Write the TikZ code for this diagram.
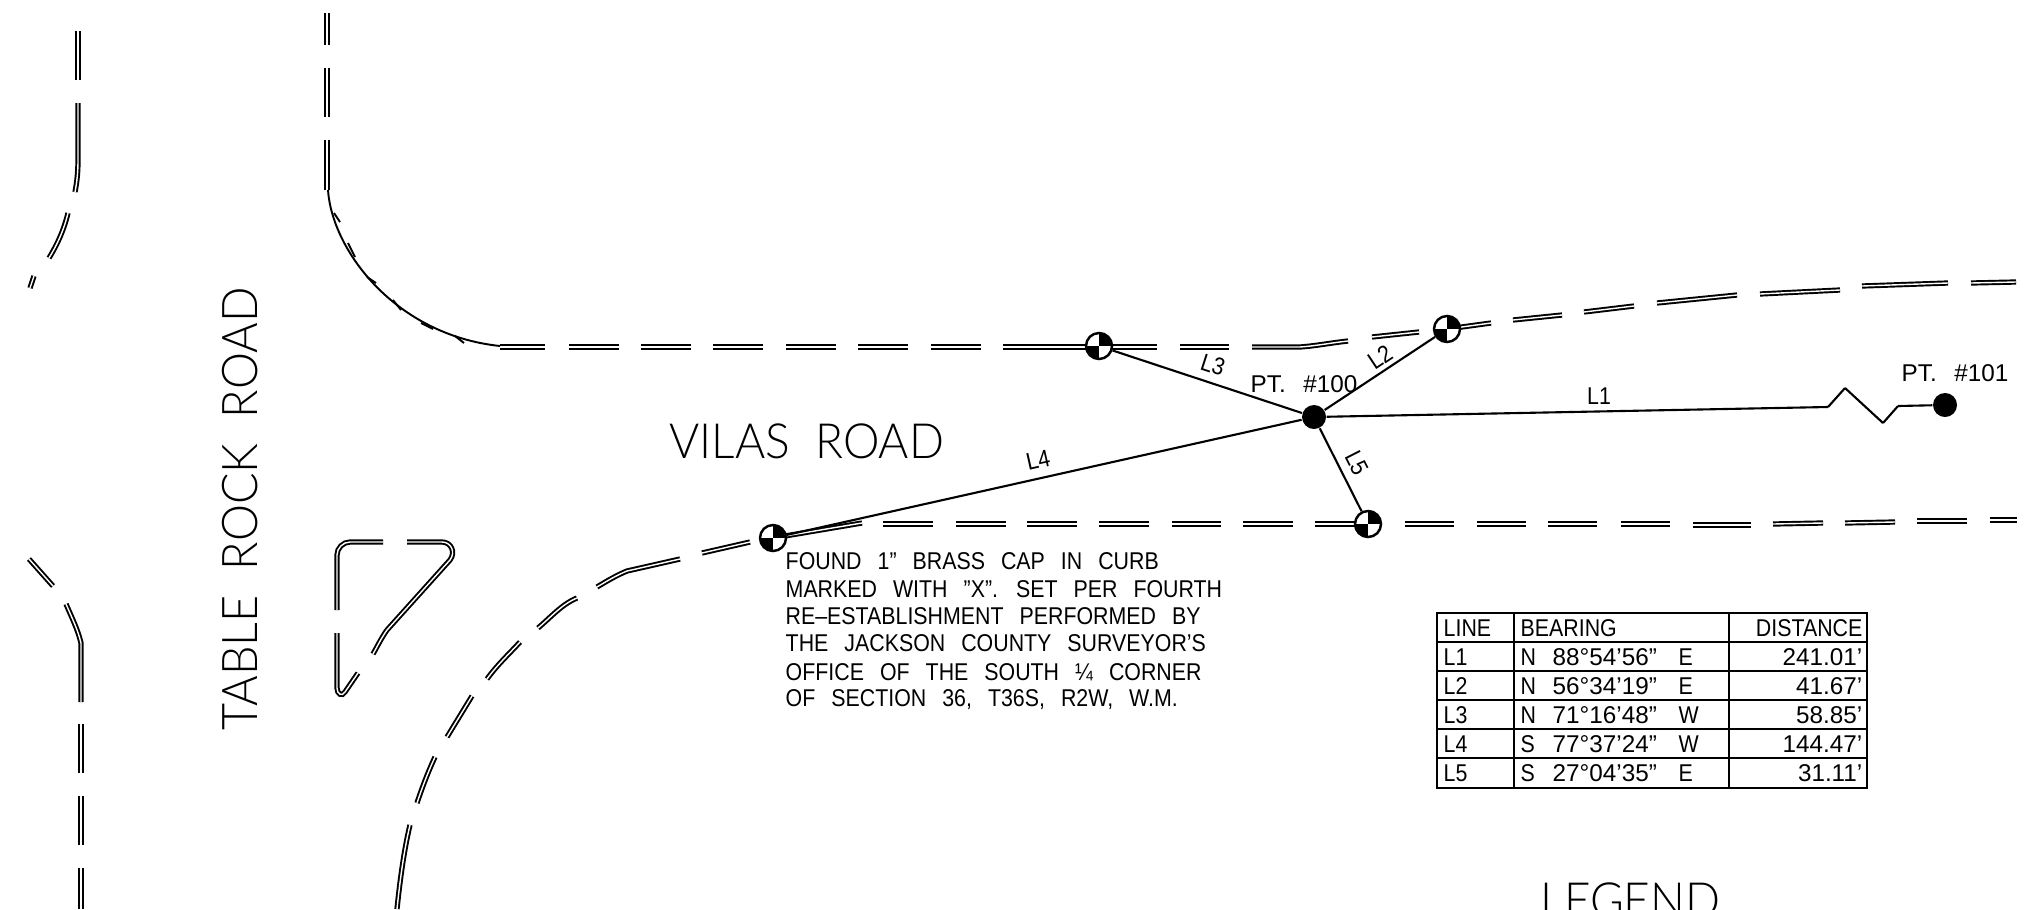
\documentclass[tikz,border=0pt]{standalone}
\usepackage{fontspec}
\setmainfont{Liberation Sans}
\newfontfamily\cadfont[FakeStretch=0.88,WordSpace=2.7,Ligatures=TeX]{Liberation Sans}
\newfontfamily\roadfont[FakeStretch=0.95,WordSpace=2]{Lato Light}
\tikzset{
    curb/.style={draw=black,line width=0.55pt,double=white,double distance=0.4pt},
    curbthin/.style={draw=black,line width=0.55pt},
    survey/.style={draw=black,line width=0.6pt},
    roadname/.style={inner sep=0pt,font=\roadfont\fontsize{14}{16}\selectfont},
    roadsmall/.style={inner sep=0pt,font=\roadfont\fontsize{13.8}{16}\selectfont},
    small/.style={inner sep=0pt,font=\cadfont\fontsize{6.9}{8}\selectfont},
    smallnum/.style={inner sep=0pt,font=\fontsize{6.9}{8}\selectfont},
    note/.style={inner sep=0pt,align=left,anchor=north west,font=\cadfont\fontsize{6.9}{7.8}\selectfont}
}
\begin{document}
\begin{tikzpicture}[x=0.01cm,y=-0.01cm]
\useasboundingbox (0,0) rectangle (2025,909);
\begin{scope}[every path/.style={curb}]
    \draw (78,31) -- (78,80);
    \draw (78,103) -- (78,160) .. controls (78,172) and (77,182) .. (75,192);
    \draw (68,213) .. controls (64,230) and (57,245) .. (49,258);
    \draw (34,276) -- (30,288);
    \draw (29,559) -- (53,586);
    \draw (66,604) .. controls (72,618) and (78,630) .. (81,643) -- (81,702);
    \draw (81,724) -- (81,773);
    \draw (81,796) -- (81,845);
    \draw (81,868) -- (81,909);
    \draw (327,13) -- (327,45);
    \draw (327,68) -- (327,117);
    \draw (327,140) -- (327,190);
    \draw (500,347) -- (545,347);
    \foreach \a/\b in {569/619,641/691,713/763,786/836,858/908,931/981,1003/1157,1180/1229}
        \draw (\a,347) -- (\b,347);
    \draw (1252,347) -- (1300,347) .. controls (1315,346) and (1330,343) .. (1348,341);
    \draw (1372,337) -- (1419,332);
    \draw (1447,329) -- (1491,323);
    \draw (1513,320) -- (1562,315);
    \draw (1584,312) -- (1634,306);
    \draw (1657,303) -- (1737,295);
    \draw (1760,294) -- (1840,290);
    \draw (1862,286) -- (1948,283);
    \draw (1971,283) -- (2016,282);
    \draw (773,538) -- (862,523);
    \foreach \a/\b in {883/933,956/1006,1027/1077,1099/1149,1172/1221,1243/1293,1315/1368,1405/1454,1477/1526,1548/1597,1621/1670}
        \draw (\a,524) -- (\b,524);
    \draw (1693,525) -- (1751,525);
    \draw (1773,524) -- (1823,523);
    \draw (1845,523) -- (1895,522);
    \draw (1917,521) -- (1967,521);
    \draw (1990,520) -- (2017,520);
    \draw (702,553) -- (750,542);
    \draw (597,587) .. controls (607,581) and (617,575) .. (627,571) -- (680,559);
    \draw (577,598) .. controls (562,604) and (550,618) .. (538,628);
    \draw (520,642) .. controls (510,653) and (497,665) .. (487,679);
    \draw (472,696) -- (447,737);
    \draw (435,757) .. controls (428,772) and (422,788) .. (417,803);
    \draw (410,825) .. controls (404,850) and (400,880) .. (397,909);
    \draw (337,610) -- (337,555) .. controls (337,548) and (343,542) .. (350,542) -- (383,542);
    \draw (407,542) -- (442,542) .. controls (451,542) and (456,552) .. (450,560) -- (387,630) .. controls (382,637) and (378,645) .. (373,654);
    \draw (358,673) -- (345,692) .. controls (342,697) and (337,694) .. (337,688) -- (337,633);
\end{scope}
\begin{scope}[every path/.style={curbthin}]
    \draw (328,190) .. controls (332,250) and (395,335) .. (500,346);
    \draw (334,213) -- (340,222);
    \draw (348,243) -- (355,257);
    \draw (367,277) -- (376,283);
    \draw (393,300) -- (401,310);
    \draw (421,323) -- (433,329);
    \draw (455,336) -- (464,343);
\end{scope}
\begin{scope}[every node/.style={circle,draw=black,inner sep=0pt,minimum size=0.26cm,line width=0.7pt,fill=white,
              path picture={\fill[black] (path picture bounding box.center) rectangle (path picture bounding box.north east);
                            \fill[black] (path picture bounding box.center) rectangle (path picture bounding box.south west);}}]
    \node (cap2) at (1447,329) {};
    \node (cap3) at (1099,346) {};
    \node (cap4) at (773,538) {};
    \node (cap5) at (1368,524) {};
\end{scope}
\begin{scope}[every node/.style={circle,fill=black,inner sep=0pt,minimum size=0.24cm}]
    \node (pt100) at (1314,417) {};
    \node (pt101) at (1945,405) {};
\end{scope}
\coordinate (brk1) at (1828,407);
\coordinate (brk2) at (1845,388);
\coordinate (brk3) at (1883,423);
\coordinate (brk4) at (1898,406);
\begin{scope}[every edge/.style={survey}]
    \path (pt100) edge (cap2);
    \path (pt100) edge (cap3);
    \path (pt100) edge (cap4);
    \path (pt100) edge (cap5);
    \path (pt100) edge (brk1);
    \path (brk1) edge (brk2);
    \path (brk2) edge (brk3);
    \path (brk3) edge (brk4);
    \path (brk4) edge (pt101);
\end{scope}
\node[small] (lblL1) at (1599,396) {L1};
\node[small,rotate=33.5] (lblL2) at (1380,357) {L2};
\node[small,rotate=-18] (lblL3) at (1213,365) {L3};
\node[small,rotate=12.6] (lblL4) at (1038,460) {L4};
\node[small,rotate=-63] (lblL5) at (1357,463) {L5};
\node[smallnum,anchor=west] (lblpt100) at (1250,384) {PT.\hspace{5pt}\#100};
\node[smallnum,anchor=west] (lblpt101) at (1901,373) {PT.\hspace{5pt}\#101};
\node[roadname,rotate=90] (table) at (240,509) {TABLE ROCK ROAD};
\node[roadsmall,anchor=west] (vilas) at (669,441) {VILAS ROAD};
\node[roadsmall,anchor=base west] (legend) at (1540,917) {LEGEND};
\node[note] (found) at (785,552) {FOUND 1" BRASS CAP IN CURB\\
MARKED WITH "X". SET PER FOURTH\\
RE--ESTABLISHMENT PERFORMED BY\\
THE JACKSON COUNTY SURVEYOR'S\\[0.4pt]
OFFICE OF THE SOUTH ¼ CORNER\\[-0.4pt]
OF SECTION 36, T36S, R2W, W.M.};
\draw[line width=0.6pt] (1437,613) rectangle (1867,788);
\foreach \y in {642,671,700,729,758}
    \draw[line width=0.6pt] (1437,\y) -- (1867,\y);
\foreach \x in {1514,1729}
    \draw[line width=0.6pt] (\x,613) -- (\x,788);
\node[small,anchor=west] (hline) at (1443,628) {LINE};
\node[small,anchor=west] (hbearing) at (1520,628) {BEARING};
\node[small,anchor=east] (hdistance) at (1863,628) {DISTANCE};
\foreach \y/\n/\q/\d/\s/\m in {657/1/N/88°54'56"/E/241.01',686/2/N/56°34'19"/E/41.67',715/3/N/71°16'48"/W/58.85',744/4/S/77°37'24"/W/144.47',773/5/S/27°04'35"/E/31.11'}{
    \node[small,anchor=west] (line\n) at (1443,\y) {L\n};
    \node[small,anchor=west] (quad\n) at (1520,\y) {\q};
    \node[smallnum,anchor=west] (bear\n) at (1552,\y) {\d};
    \node[small,anchor=west] (side\n) at (1678,\y) {\s};
    \node[smallnum,anchor=east] (dist\n) at (1863,\y) {\m};
}
\end{tikzpicture}
\end{document}
